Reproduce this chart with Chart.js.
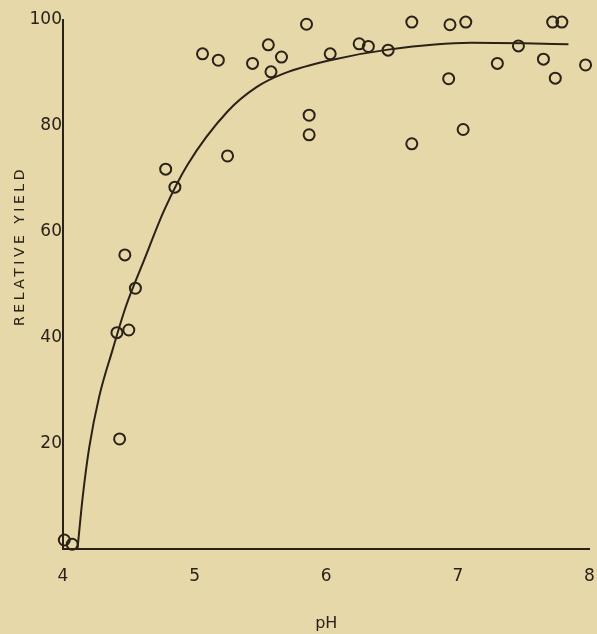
<!DOCTYPE html>
<html>
<head>
<meta charset="utf-8">
<script src="https://cdn.jsdelivr.net/npm/chart.js@4"></script>
<style>
  html, body { margin: 0; padding: 0; background: #e6d8a8; }
  #wrap { width: 597px; height: 634px; position: relative; }
</style>
</head>
<body>
<div id="wrap"><canvas id="c" width="597" height="634"></canvas></div>
<script>
// Observed relative yield against soil pH
const samplePH = [4.01, 4.07, 4.41, 4.50, 4.43, 4.47, 4.55, 4.78, 4.85, 5.06, 5.18, 5.25,
  5.44, 5.56, 5.58, 5.66, 5.85, 5.87, 5.87, 6.03, 6.25, 6.32, 6.47, 6.65, 6.65, 6.94,
  6.93, 7.04, 7.06, 7.30, 7.46, 7.65, 7.72, 7.74, 7.79, 7.97];
const sampleYield = [1.7, 0.9, 40.9, 41.4, 20.8, 55.6, 49.3, 71.8, 68.4, 93.6, 92.4, 74.3,
  91.8, 95.3, 90.2, 93.0, 99.2, 82.0, 78.3, 93.6, 95.5, 95.0, 94.3, 99.6, 76.6, 99.1,
  88.9, 79.3, 99.6, 91.8, 95.1, 92.6, 99.6, 89.0, 99.6, 91.5];

// Hand-fitted response curve
const curvePH = [4.11, 4.15, 4.20, 4.275, 4.376, 4.477, 4.616, 4.77, 4.945, 5.25,
  5.47, 5.68, 6.03, 6.47, 7.10, 7.50, 7.84];
const curveYield = [0, 9.9, 19.3, 28.8, 37.6, 45.8, 54.6, 64.1, 72.6, 82.7,
  87.3, 89.9, 92.4, 94.4, 95.7, 95.6, 95.4];

const xTicks = [4, 5, 6, 7, 8];
const yTicks = [20, 40, 60, 80, 100];
const xTitle = 'pH';
const yTitle = 'RELATIVE YIELD';

const INK = '#2a2118';
const TICK_FONT = { family: 'DejaVu Sans', size: 17 };

const points = samplePH.map((x, i) => ({ x, y: sampleYield[i] }));
const curve = curvePH.map((x, i) => ({ x, y: curveYield[i] }));

// Vertical, letter-spaced axis title for the yield scale
const yTitlePlugin = {
  id: 'yTitle',
  afterDraw(chart) {
    const ctx = chart.ctx;
    ctx.save();
    ctx.translate(20, 248);
    ctx.rotate(-Math.PI / 2);
    ctx.font = '14px "DejaVu Sans"';
    ctx.fillStyle = INK;
    ctx.textAlign = 'center';
    ctx.textBaseline = 'middle';
    if ('letterSpacing' in ctx) ctx.letterSpacing = '3.5px';
    ctx.fillText(yTitle, 2, 0);
    ctx.restore();
  }
};

new Chart(document.getElementById('c'), {
  type: 'scatter',
  data: {
    datasets: [
      {
        type: 'line',
        data: curve,
        borderColor: INK,
        borderWidth: 2,
        pointRadius: 0,
        fill: false,
        cubicInterpolationMode: 'monotone',
        clip: false
      },
      {
        data: points,
        pointStyle: 'circle',
        pointRadius: 5.5,
        pointBorderWidth: 2,
        pointBorderColor: INK,
        pointBackgroundColor: 'rgba(0,0,0,0)',
        clip: false
      }
    ]
  },
  options: {
    responsive: false,
    animation: false,
    layout: { padding: { top: 20, right: 7, left: 0, bottom: 0 } },
    plugins: { legend: { display: false }, tooltip: { enabled: false } },
    scales: {
      x: {
        type: 'linear',
        min: 4,
        max: 8,
        afterFit(scale) {
          scale.height = 85;
          scale.paddingLeft = 0;
          scale.paddingRight = 0;
        },
        afterBuildTicks(scale) { scale.ticks = xTicks.map(v => ({ value: v })); },
        grid: { display: false, drawTicks: false },
        border: { display: true, color: INK, width: 2 },
        ticks: { color: INK, font: TICK_FONT, padding: 17 },
        title: {
          display: true,
          text: xTitle,
          color: INK,
          font: { family: 'DejaVu Sans', size: 16 },
          padding: { top: 0, bottom: 1 }
        }
      },
      y: {
        type: 'linear',
        min: 0,
        max: 100,
        afterFit(scale) {
          scale.width = 63;
          scale.paddingTop = 0;
          scale.paddingBottom = 0;
        },
        afterBuildTicks(scale) { scale.ticks = yTicks.map(v => ({ value: v })); },
        grid: { display: false, drawTicks: false },
        border: { display: true, color: INK, width: 2 },
        ticks: { color: INK, font: TICK_FONT, padding: 1 }
      }
    }
  },
  plugins: [yTitlePlugin]
});
</script>
</body>
</html>
